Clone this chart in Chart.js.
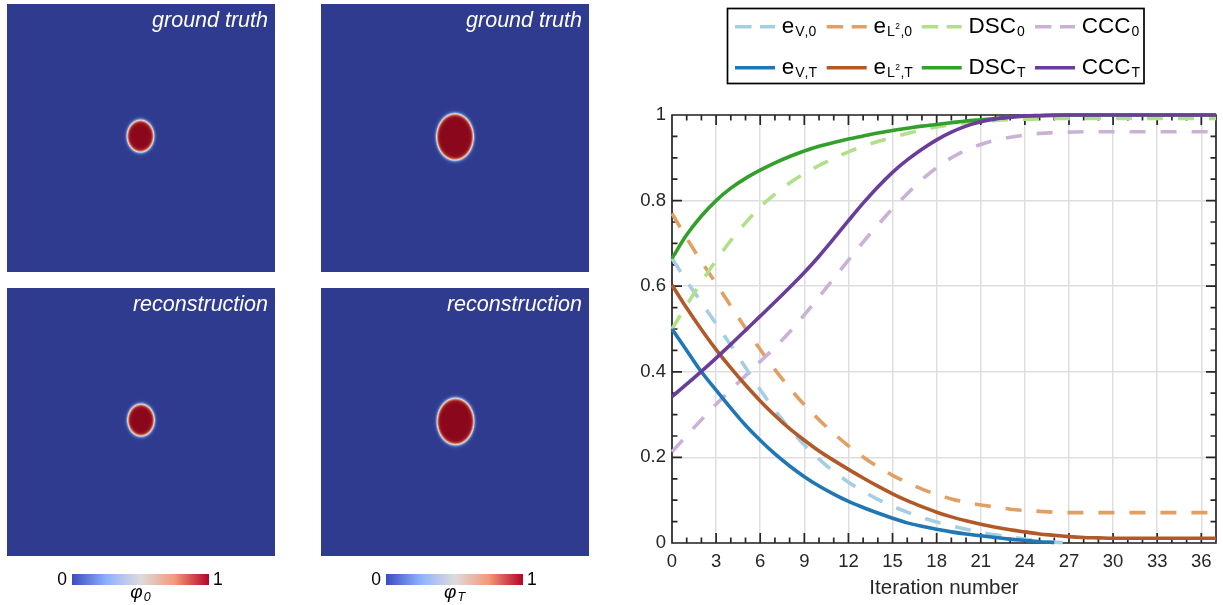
<!DOCTYPE html>
<html>
<head>
<meta charset="utf-8">
<script src="https://cdn.jsdelivr.net/npm/chart.js@4.4.0/dist/chart.umd.min.js"></script>
<style>
html,body{margin:0;padding:0;background:#fff;width:1223px;height:605px;overflow:hidden;}
canvas{position:absolute;display:block;}
</style>
</head>
<body>
<canvas id="pA" width="268" height="268" style="left:7px;top:4px;width:268px;height:268px"></canvas>
<canvas id="pB" width="268" height="268" style="left:321px;top:4px;width:268px;height:268px"></canvas>
<canvas id="pC" width="268" height="268" style="left:7px;top:288px;width:268px;height:268px"></canvas>
<canvas id="pD" width="268" height="268" style="left:321px;top:288px;width:268px;height:268px"></canvas>
<canvas id="cb0" width="200" height="45" style="left:40px;top:560px;width:200px;height:45px"></canvas>
<canvas id="cb1" width="200" height="45" style="left:354px;top:560px;width:200px;height:45px"></canvas>
<canvas id="main" width="623" height="605" style="left:600px;top:0px;width:623px;height:605px"></canvas>
<script>
// ---------------- data ----------------
const iterations = [0,1,2,3,4,5,6,7,8,9,10,11,12,13,14,15,16,17,18,19,20,21,22,23,24,25,26,27,28,29,30,31,32,33,34,35,36,37];
const eV0  = [0.665,0.612,0.562,0.512,0.462,0.41,0.358,0.31,0.267,0.229,0.196,0.167,0.142,0.121,0.102,0.086,0.072,0.06,0.049,0.04,0.032,0.025,0.019,0.014,0.009,0.005,0.002,0.0];
const eL20 = [0.77,0.712,0.658,0.606,0.554,0.502,0.452,0.405,0.362,0.323,0.288,0.256,0.227,0.201,0.178,0.158,0.141,0.126,0.113,0.103,0.095,0.089,0.084,0.079,0.076,0.074,0.072,0.071,0.071,0.071,0.071,0.071,0.071,0.071,0.071,0.071,0.071,0.071];
const DSC0 = [0.5,0.556,0.61,0.66,0.707,0.748,0.785,0.815,0.841,0.863,0.882,0.899,0.914,0.927,0.938,0.948,0.957,0.965,0.972,0.977,0.981,0.984,0.987,0.989,0.99,0.991,0.992,0.992,0.992,0.992,0.992,0.992,0.992,0.992,0.992,0.992,0.992,0.992];
const CCC0 = [0.213,0.251,0.288,0.324,0.358,0.391,0.424,0.457,0.493,0.533,0.575,0.618,0.661,0.703,0.743,0.781,0.816,0.849,0.877,0.9,0.918,0.931,0.941,0.948,0.953,0.957,0.959,0.96,0.961,0.961,0.961,0.961,0.961,0.961,0.961,0.961,0.961,0.961];
const eVT  = [0.5,0.45,0.4,0.357,0.315,0.275,0.24,0.208,0.18,0.155,0.133,0.114,0.097,0.083,0.07,0.058,0.047,0.039,0.032,0.026,0.021,0.017,0.013,0.009,0.006,0.003,0.001];
const eL2T = [0.603,0.549,0.499,0.452,0.409,0.369,0.332,0.298,0.267,0.24,0.215,0.193,0.172,0.152,0.133,0.115,0.099,0.085,0.072,0.061,0.052,0.044,0.037,0.031,0.026,0.021,0.018,0.015,0.013,0.012,0.011,0.011,0.011,0.011,0.011,0.011,0.011,0.011];
const DSCT = [0.665,0.72,0.764,0.8,0.829,0.852,0.871,0.888,0.903,0.916,0.927,0.936,0.944,0.951,0.958,0.964,0.969,0.974,0.978,0.982,0.986,0.989,0.992,0.995,0.997,0.998,0.999,1,1,1,1,1,1,1,1,1,1,1];
const CCCT = [0.342,0.371,0.401,0.432,0.464,0.497,0.53,0.563,0.597,0.632,0.67,0.711,0.753,0.794,0.832,0.866,0.895,0.92,0.942,0.96,0.974,0.984,0.991,0.995,0.998,0.999,1,1,1,1,1,1,1,1,1,1,1,1];

const legendMain = ['e','e','DSC','CCC','e','e','DSC','CCC'];
const legendSub  = ['V,0','L\u00b2,0','0','0','V,T','L\u00b2,T','T','T'];

const xTicks = [0,3,6,9,12,15,18,21,24,27,30,33,36];
const xTickLabels = ['0','3','6','9','12','15','18','21','24','27','30','33','36'];
const yTicks = [0,0.2,0.4,0.6,0.8,1];
const yTickLabels = ['0','0.2','0.4','0.6','0.8','1'];
const xTitle = 'Iteration number';

// phase-field panels (domain units, y upward)
const panelTitles = ['ground truth','ground truth','reconstruction','reconstruction'];
const fieldCX = [0.498,0.5,0.5,0.502];
const fieldCY = [0.507,0.504,0.507,0.502];
const fieldRX = [0.05,0.069,0.05,0.069];
const fieldRY = [0.06,0.087,0.06,0.087];
const fieldEps = [0.0065,0.0065,0.0065,0.0065];

const colorbarTicks = [0,1];
const colorbarLabels = ['0','1'];
const colorbarSymbol = ['\u03c6','\u03c6'];
const colorbarSub = ['0','T'];

// ---------------- styles ----------------
const FONT = '"Liberation Sans", Arial, Helvetica, sans-serif';
const panelCmap = [[0,47,59,142],[0.25,105,140,212],[0.5,221,221,221],[0.75,236,140,105],[1,139,8,28]];
const coolwarm = [[0,59,76,192],[0.25,141,176,254],[0.5,221,220,220],[0.75,244,152,122],[1,180,4,38]];
function cmapAt(cm, t){
  t = Math.max(0, Math.min(1, t));
  for (let k=1;k<cm.length;k++){
    if (t <= cm[k][0]){
      const a=cm[k-1], b=cm[k], u=(t-a[0])/(b[0]-a[0]);
      return [a[1]+(b[1]-a[1])*u, a[2]+(b[2]-a[2])*u, a[3]+(b[3]-a[3])*u];
    }
  }
  const l=cm[cm.length-1]; return [l[1],l[2],l[3]];
}

// ---------------- panels ----------------
const fieldPlugin = {
  id:'field',
  beforeDraw(chart, args, opts){
    const {ctx, chartArea:a, scales:{x,y}} = chart;
    const w = Math.round(a.right-a.left), h = Math.round(a.bottom-a.top);
    const img = ctx.createImageData(w,h);
    const k = opts.k;
    const cx=fieldCX[k], cy=fieldCY[k], rx=fieldRX[k], ry=fieldRY[k], eps=fieldEps[k];
    const rm = Math.sqrt(rx*ry);
    for (let j=0;j<h;j++){
      const yv = y.getValueForPixel(a.top+j+0.5);
      for (let i=0;i<w;i++){
        const xv = x.getValueForPixel(a.left+i+0.5);
        const dx=(xv-cx)/rx, dy=(yv-cy)/ry;
        const d=Math.sqrt(dx*dx+dy*dy);
        const s=(d-1)*rm/eps;
        const phi=0.5*(1-Math.tanh(s));
        const c=cmapAt(panelCmap, phi);
        const p=(j*w+i)*4;
        img.data[p]=c[0]; img.data[p+1]=c[1]; img.data[p+2]=c[2]; img.data[p+3]=255;
      }
    }
    ctx.putImageData(img, Math.round(a.left), Math.round(a.top));
  },
  afterDraw(chart, args, opts){
    const {ctx, chartArea:a} = chart;
    ctx.save();
    ctx.fillStyle='#ffffff';
    ctx.font='italic 21.5px '+FONT;
    ctx.textAlign='right'; ctx.textBaseline='alphabetic';
    ctx.fillText(panelTitles[opts.k], a.right-7, a.top+23);
    ctx.restore();
  }
};
['pA','pB','pC','pD'].forEach((id,k)=>{
  new Chart(document.getElementById(id), {
    type:'scatter',
    data:{datasets:[]},
    options:{
      responsive:false, animation:false, events:[],
      layout:{padding:0},
      plugins:{legend:{display:false}, tooltip:{enabled:false}, field:{k:k}},
      scales:{ x:{type:'linear',min:0,max:1,display:false}, y:{type:'linear',min:0,max:1,display:false} }
    },
    plugins:[fieldPlugin]
  });
});

// ---------------- colorbars ----------------
const cbPlugin = {
  id:'cbar',
  beforeDraw(chart, args, opts){
    const {ctx, chartArea:a, scales:{x}} = chart;
    const x0=x.getPixelForValue(colorbarTicks[0]), x1=x.getPixelForValue(colorbarTicks[colorbarTicks.length-1]);
    const g=ctx.createLinearGradient(x0,0,x1,0);
    for (let t=0;t<=1.0001;t+=0.05){ const c=cmapAt(coolwarm,t); g.addColorStop(Math.min(1,t),'rgb('+c.map(Math.round).join(',')+')'); }
    ctx.save();
    ctx.fillStyle=g; ctx.fillRect(x0,a.top,x1-x0,a.bottom-a.top);
    ctx.fillStyle='#000';
    ctx.font='17.5px '+FONT; ctx.textBaseline='middle';
    const ym=(a.top+a.bottom)/2+1;
    ctx.textAlign='right'; ctx.fillText(colorbarLabels[0], x.getPixelForValue(colorbarTicks[0])-5, ym);
    ctx.textAlign='left'; ctx.fillText(colorbarLabels[1], x.getPixelForValue(colorbarTicks[1])+4, ym);
    const k=opts.k;
    ctx.textBaseline='alphabetic'; ctx.textAlign='left';
    ctx.font='italic 19px '+FONT; const w1=ctx.measureText(colorbarSymbol[k]).width;
    ctx.font='italic 12.5px '+FONT; const w2=ctx.measureText(colorbarSub[k]).width;
    const cx=(x0+x1)/2, sx=cx-(w1+w2+1)/2, base=a.bottom+13;
    ctx.font='italic 19px '+FONT; ctx.fillText(colorbarSymbol[k], sx, base);
    ctx.font='italic 12.5px '+FONT; ctx.fillText(colorbarSub[k], sx+w1+1, base+3);
    ctx.restore();
  }
};
['cb0','cb1'].forEach((id,k)=>{
  new Chart(document.getElementById(id), {
    type:'scatter', data:{datasets:[]},
    options:{
      responsive:false, animation:false, events:[],
      layout:{padding:{left:32,right:31,top:14,bottom:20}},
      plugins:{legend:{display:false}, tooltip:{enabled:false}, cbar:{k:k}},
      scales:{ x:{type:'linear',min:0,max:1,display:false}, y:{type:'linear',min:0,max:1,display:false} }
    },
    plugins:[cbPlugin]
  });
});

// ---------------- line chart ----------------
const toXY = arr => arr.map((v,i)=>({x:iterations[i], y:v}));
const DASH=[16,15];
const seriesDefs = [
  {data:eV0,  color:'#a6cee3', dash:DASH},
  {data:eL20, color:'#e0a064', dash:DASH},
  {data:DSC0, color:'#b2df8a', dash:DASH},
  {data:CCC0, color:'#cab2d6', dash:DASH},
  {data:eVT,  color:'#1f78b4', dash:[]},
  {data:eL2T, color:'#b15928', dash:[]},
  {data:DSCT, color:'#33a02c', dash:[]},
  {data:CCCT, color:'#6a3d9a', dash:[]}
];
const datasets = seriesDefs.map((s,i)=>({
  label: legendMain[i]+'_'+legendSub[i],
  data: toXY(s.data),
  borderColor: s.color, backgroundColor: s.color,
  borderDash: s.dash, borderWidth: 3.6, borderCapStyle:'butt',
  pointRadius:0, fill:false, cubicInterpolationMode:'monotone',
  clip: 4, order: 7-i
}));

const boxPlugin = {
  id:'box',
  beforeDatasetsDraw(chart){
    const {ctx, chartArea:a, scales:{x,y}} = chart;
    ctx.save();
    ctx.strokeStyle='#262626'; ctx.lineWidth=1.7;
    ctx.beginPath();
    ctx.rect(a.left, a.top, a.right-a.left, a.bottom-a.top);
    for (let v=x.min; v<=x.max; v+=1){
      const px=x.getPixelForValue(v); const L = xTicks.includes(v)?10:5.5;
      ctx.moveTo(px,a.bottom); ctx.lineTo(px,a.bottom-L);
      ctx.moveTo(px,a.top); ctx.lineTo(px,a.top+L);
    }
    for (let n=0; n<=20; n++){
      const v=n*0.05; const py=y.getPixelForValue(v); const L=(n%4===0)?10:5.5;
      ctx.moveTo(a.left,py); ctx.lineTo(a.left+L,py);
      ctx.moveTo(a.right,py); ctx.lineTo(a.right-L,py);
    }
    ctx.stroke();
    ctx.restore();
  },
  afterDraw(chart){
    const {ctx, chartArea:a} = chart;
    ctx.save();
    ctx.fillStyle='#262626'; ctx.font='20.5px '+FONT; ctx.textAlign='center'; ctx.textBaseline='alphabetic';
    ctx.fillText(xTitle, (a.left+a.right)/2, 593.5);
    ctx.fillStyle='#ffffff'; ctx.fillRect(127.5,8.5,416.5,75);
    ctx.strokeStyle='#000'; ctx.lineWidth=1.7; ctx.strokeRect(127.5,8.5,416.5,75);
    const colX=[135,226.7,321.7,435], rowY=[26.7,67.8];
    chart.data.datasets.forEach((ds,i)=>{
      const r=Math.floor(i/4), c=i%4, x0=colX[c], y0=rowY[r];
      ctx.strokeStyle=ds.borderColor; ctx.lineWidth=3.6; ctx.lineCap='butt';
      ctx.setLineDash(ds.borderDash.length?[16.5,8.5]:[]);
      ctx.beginPath(); ctx.moveTo(x0,y0); ctx.lineTo(x0+40,y0); ctx.stroke();
      ctx.setLineDash([]);
      let tx=x0+46.7; const base=y0+6.6;
      ctx.fillStyle='#000'; ctx.textAlign='left'; ctx.textBaseline='alphabetic';
      ctx.font='22.5px '+FONT;
      ctx.fillText(legendMain[i], tx, base); tx+=ctx.measureText(legendMain[i]).width+1;
      for (const ch of legendSub[i]){
        if (ch==='\u00b2'){ ctx.font='8.5px '+FONT; ctx.fillText('2', tx+0.5, base-4.5); tx+=ctx.measureText('2').width+1; }
        else { ctx.font='14px '+FONT; ctx.fillText(ch, tx, base+2.5); tx+=ctx.measureText(ch).width; }
      }
    });
    ctx.restore();
  }
};

new Chart(document.getElementById('main'), {
  type:'line',
  data:{datasets:datasets},
  options:{
    responsive:false, animation:false, events:[],
    layout:{padding:{left:0,right:7,top:115,bottom:0}},
    plugins:{legend:{display:false}, tooltip:{enabled:false}},
    scales:{
      x:{ type:'linear', min:0, max:37,
          afterBuildTicks: s=>{ s.ticks = xTicks.map(v=>({value:v})); },
          afterFit: s=>{ s.height=62; },
          ticks:{ callback:(v,i)=>xTickLabels[i], autoSkip:false, maxRotation:0, padding:8, color:'#262626', font:{family:FONT, size:18.5} },
          grid:{ color:'#dedede', lineWidth:1.5, drawTicks:false },
          border:{display:false} },
      y:{ type:'linear', min:0, max:1,
          afterBuildTicks: s=>{ s.ticks = yTicks.map(v=>({value:v})); },
          afterFit: s=>{ s.width=72; },
          ticks:{ callback:(v,i)=>yTickLabels[i], padding:6, color:'#262626', font:{family:FONT, size:18.5} },
          grid:{ color:'#dedede', lineWidth:1.5, drawTicks:false },
          border:{display:false} }
    }
  },
  plugins:[boxPlugin]
});
</script>
</body>
</html>
